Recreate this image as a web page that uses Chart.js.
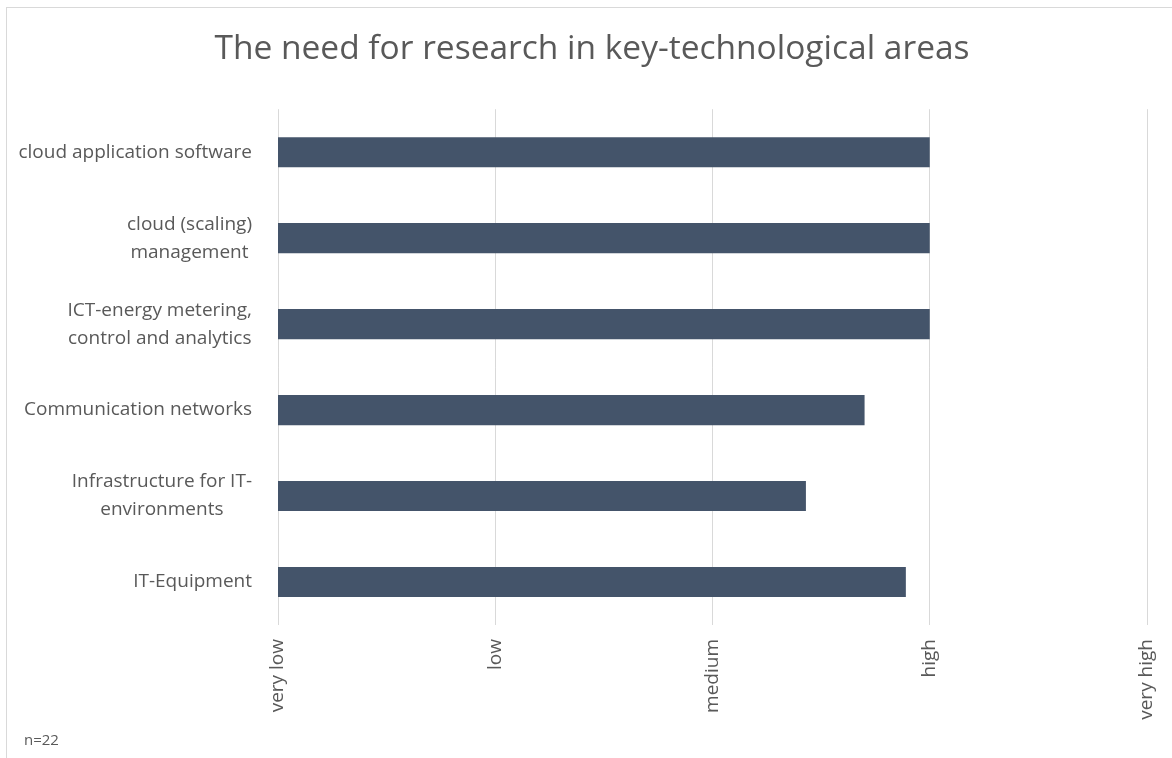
<!DOCTYPE html>
<html>
<head>
<meta charset="utf-8">
<script src="https://cdn.jsdelivr.net/npm/chart.js@4/dist/chart.umd.min.js"></script>
<style>
  html, body { margin: 0; padding: 0; background: #fff; }
  #wrap { position: relative; width: 1172px; height: 758px; }
</style>
</head>
<body>
<div id="wrap"><canvas id="needChart" width="1172" height="758"></canvas></div>
<script>
// categories (multi-line ones split into their lines)
var areas = [
  ['cloud application software'],
  ['cloud (scaling)', 'management'],
  ['ICT-energy metering,', 'control and analytics'],
  ['Communication networks'],
  ['Infrastructure for IT-', 'environments'],
  ['IT-Equipment']
];
// mean rating, 1 = very low ... 5 = very high
var need = [4.0, 4.0, 4.0, 3.70, 3.43, 3.89];
var levelLabels = ['very low', 'low', 'medium', 'high', 'very high'];
var sampleNote = 'n=22';

var grey = '#595959';
var fontFam = "'Open Sans', sans-serif";

// frame, n=22 note and the y labels (lines centred inside a right-aligned block)
var extras = {
  id: 'extras',
  beforeDraw: function (chart) {
    var ctx = chart.ctx;
    ctx.save();
    ctx.fillStyle = '#fff';
    ctx.fillRect(0, 0, chart.width, chart.height);
    ctx.strokeStyle = '#d9d9d9';
    ctx.lineWidth = 1;
    ctx.strokeRect(6.5, 7.5, 1200, 760);
    ctx.restore();
  },
  afterDraw: function (chart) {
    var ctx = chart.ctx;
    var yScale = chart.scales.y;
    ctx.save();
    ctx.fillStyle = grey;
    ctx.font = '19px ' + fontFam;
    ctx.textAlign = 'center';
    ctx.textBaseline = 'middle';
    var rightEdge = 252, lineH = 28;
    areas.forEach(function (lines, i) {
      var yc = yScale.getPixelForValue(i);
      var w = 0;
      lines.forEach(function (l) { w = Math.max(w, ctx.measureText(l).width); });
      var cx = rightEdge - w / 2;
      var y0 = yc - (lines.length - 1) * lineH / 2;
      lines.forEach(function (l, k) { ctx.fillText(l, cx, y0 + k * lineH); });
    });
    ctx.font = '15px ' + fontFam;
    ctx.textAlign = 'left';
    ctx.fillText(sampleNote, 24, 741);
    ctx.restore();
  }
};

var ctx = document.getElementById('needChart');
new Chart(ctx, {
  type: 'bar',
  data: {
    labels: areas.map(function (a) { return a.join(' '); }),
    datasets: [{
      data: need,
      backgroundColor: '#44546a',
      borderWidth: 0,
      barPercentage: 0.35,
      categoryPercentage: 1.0
    }]
  },
  plugins: [extras],
  options: {
    indexAxis: 'y',
    responsive: false,
    animation: false,
    layout: { padding: { top: 8, right: 0, bottom: 0, left: 12 } },
    plugins: {
      legend: { display: false },
      tooltip: { enabled: false },
      title: {
        display: true,
        text: 'The need for research in key-technological areas',
        color: grey,
        font: { family: fontFam, size: 33.5, weight: 'normal' },
        padding: { top: 21, bottom: 40 }
      }
    },
    scales: {
      x: {
        min: 1,
        max: 5,
        grid: { color: '#d9d9d9', drawTicks: false },
        border: { display: false },
        ticks: {
          stepSize: 1,
          maxRotation: 90,
          minRotation: 90,
          padding: 14,
          color: grey,
          font: { family: fontFam, size: 19 },
          callback: function (v) { return levelLabels[v - 1]; }
        },
        afterFit: function (s) {
          s.height = 133;
          s.paddingLeft = 0;
          s.paddingRight = 25;
        }
      },
      y: {
        grid: { display: false },
        border: { display: false },
        ticks: { display: false },
        afterFit: function (s) { s.width = 266; }
      }
    }
  }
});
</script>
</body>
</html>
